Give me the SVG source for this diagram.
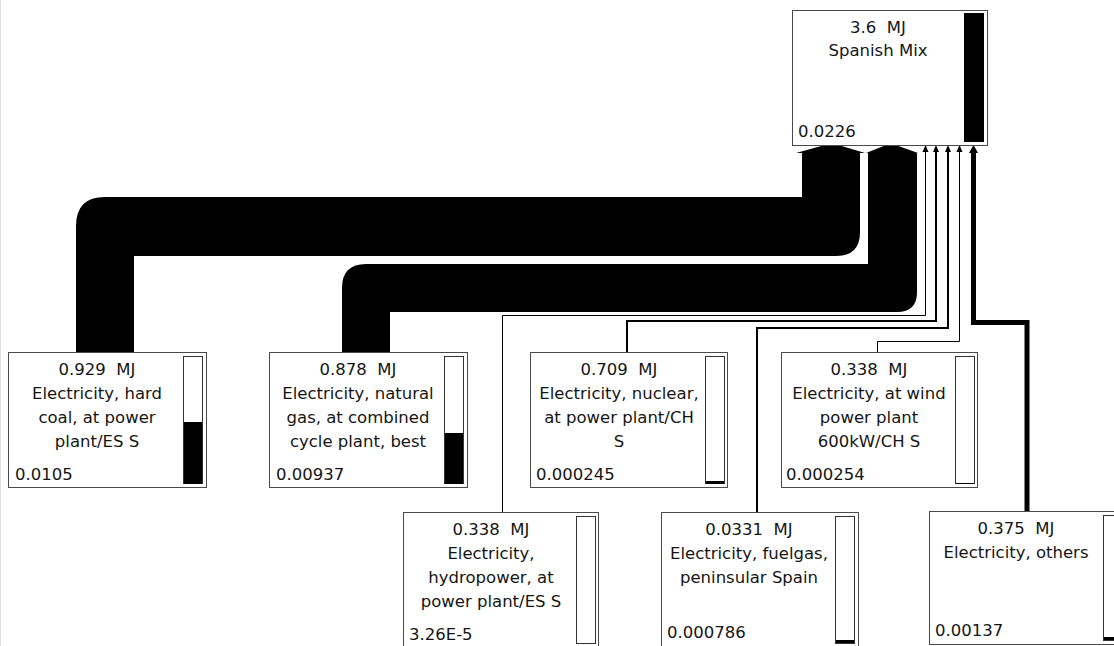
<svg xmlns="http://www.w3.org/2000/svg" width="1114" height="646" viewBox="0 0 1114 646">
<style>
.box{fill:#fff;stroke:#4a4a4a;stroke-width:1}
.bar{fill:#fff;stroke:#333;stroke-width:1}
.lvl{fill:#000}
.t{font-family:"DejaVu Sans",Verdana,sans-serif;font-size:16.5px;fill:#151515;text-anchor:middle;white-space:pre}
.v{font-family:"DejaVu Sans",Verdana,sans-serif;font-size:16.5px;fill:#151515;text-anchor:start}
.ln{fill:none;stroke:#000;stroke-linejoin:miter}
.flow{fill:#000}
</style>
<rect x="0" y="0" width="1114" height="646" fill="#fff"/>
<line x1="0.5" y1="0" x2="0.5" y2="646" stroke="#e2e2e2"/>

<g id="connectors">
  <!-- coal flow -->
  <path class="flow" d="M76,352 L76,226 Q76,197 105,197 L802,197 L802,153 L796,153 L823,145.5 L840,145.5 L865,153 L860,153 L860,232 Q860,256 836,256 L134,256 L134,352 Z"/>
  <!-- natural gas flow -->
  <path class="flow" d="M342,352 L342,288 Q342,264 366,264 L868,264 L868,153 L866,153 L885,145.5 L897,145.5 L918,153 L917,153 L917,292 Q917,312 897,312 L390,312 L390,352 Z"/>
  <!-- hydropower -->
  <path class="ln" stroke-width="1" d="M502.5,512 L502.5,315.5 L925.5,315.5 L925.5,151"/>
  <polygon points="922.5,152 925.5,145 928.5,152"/>
  <!-- nuclear -->
  <path class="ln" stroke-width="2" d="M627,352 L627,321 L936,321 L936,151"/>
  <polygon points="933,152 936,145 939,152"/>
  <!-- fuelgas -->
  <path class="ln" stroke-width="2" d="M757,512 L757,328 L948,328 L948,151"/>
  <polygon points="945,152 948,145 951,152"/>
  <!-- wind -->
  <path class="ln" stroke-width="1" d="M877.5,352 L877.5,341.5 L959.5,341.5 L959.5,151"/>
  <polygon points="956.5,152 959.5,145 962.5,152"/>
  <!-- others -->
  <path class="ln" stroke-width="5" d="M1027,511 L1027,322.5 L973.5,322.5 L973.5,152"/>
  <polygon points="969,153 973.5,145 978,153"/>
</g>

<g id="spanish-mix">
  <rect class="box" x="792.5" y="10.5" width="195" height="135"/>
  <rect class="lvl" x="964" y="13" width="20" height="129"/>
  <text class="t" x="878" y="33">3.6  MJ</text>
  <text class="t" x="878" y="56">Spanish Mix</text>
  <text class="v" x="798" y="137">0.0226</text>
</g>

<g id="hard-coal">
  <rect class="box" x="8.5" y="352.5" width="198" height="135"/>
  <rect class="bar" x="183.5" y="356.5" width="19" height="127"/>
  <rect class="lvl" x="184" y="422" width="18" height="62"/>
  <text class="t" x="97" y="375">0.929  MJ</text>
  <text class="t" x="97" y="399">Electricity, hard</text>
  <text class="t" x="97" y="423">coal, at power</text>
  <text class="t" x="97" y="447">plant/ES S</text>
  <text class="v" x="15" y="480">0.0105</text>
</g>

<g id="natural-gas">
  <rect class="box" x="269.5" y="352.5" width="198" height="135"/>
  <rect class="bar" x="444.5" y="356.5" width="19" height="127"/>
  <rect class="lvl" x="445" y="433" width="18" height="51"/>
  <text class="t" x="358" y="375">0.878  MJ</text>
  <text class="t" x="358" y="399">Electricity, natural</text>
  <text class="t" x="358" y="423">gas, at combined</text>
  <text class="t" x="358" y="447">cycle plant, best</text>
  <text class="v" x="276" y="480">0.00937</text>
</g>

<g id="nuclear">
  <rect class="box" x="530.5" y="352.5" width="197" height="135"/>
  <rect class="bar" x="705.5" y="356.5" width="19" height="127"/>
  <rect class="lvl" x="706" y="481" width="18" height="3"/>
  <text class="t" x="619" y="375">0.709  MJ</text>
  <text class="t" x="619" y="399">Electricity, nuclear,</text>
  <text class="t" x="619" y="423">at power plant/CH</text>
  <text class="t" x="619" y="447">S</text>
  <text class="v" x="536" y="480">0.000245</text>
</g>

<g id="wind">
  <rect class="box" x="781.5" y="352.5" width="196" height="135"/>
  <rect class="bar" x="955.5" y="356.5" width="19" height="127"/>
  <rect class="lvl" x="956" y="483" width="18" height="1"/>
  <text class="t" x="869" y="375">0.338  MJ</text>
  <text class="t" x="869" y="399">Electricity, at wind</text>
  <text class="t" x="869" y="423">power plant</text>
  <text class="t" x="869" y="447">600kW/CH S</text>
  <text class="v" x="786" y="480">0.000254</text>
</g>

<g id="hydropower">
  <rect class="box" x="403.5" y="512.5" width="195" height="136"/>
  <rect class="bar" x="576.5" y="516.5" width="19" height="127"/>
  <text class="t" x="491" y="535">0.338  MJ</text>
  <text class="t" x="491" y="559">Electricity,</text>
  <text class="t" x="491" y="583">hydropower, at</text>
  <text class="t" x="491" y="607">power plant/ES S</text>
  <text class="v" x="409" y="640">3.26E-5</text>
</g>

<g id="fuelgas">
  <rect class="box" x="661.5" y="512.5" width="197" height="136"/>
  <rect class="bar" x="835.5" y="516.5" width="19" height="127"/>
  <rect class="lvl" x="836" y="640" width="18" height="3"/>
  <text class="t" x="749" y="535">0.0331  MJ</text>
  <text class="t" x="749" y="559">Electricity, fuelgas,</text>
  <text class="t" x="749" y="583">peninsular Spain</text>
  <text class="v" x="667" y="638">0.000786</text>
</g>

<g id="others">
  <rect class="box" x="929.5" y="511.5" width="200" height="133"/>
  <rect class="bar" x="1103.5" y="515.5" width="19" height="125"/>
  <rect class="lvl" x="1104" y="637" width="18" height="3"/>
  <text class="t" x="1016" y="534">0.375  MJ</text>
  <text class="t" x="1016" y="558">Electricity, others</text>
  <text class="v" x="935" y="636">0.00137</text>
</g>
</svg>
